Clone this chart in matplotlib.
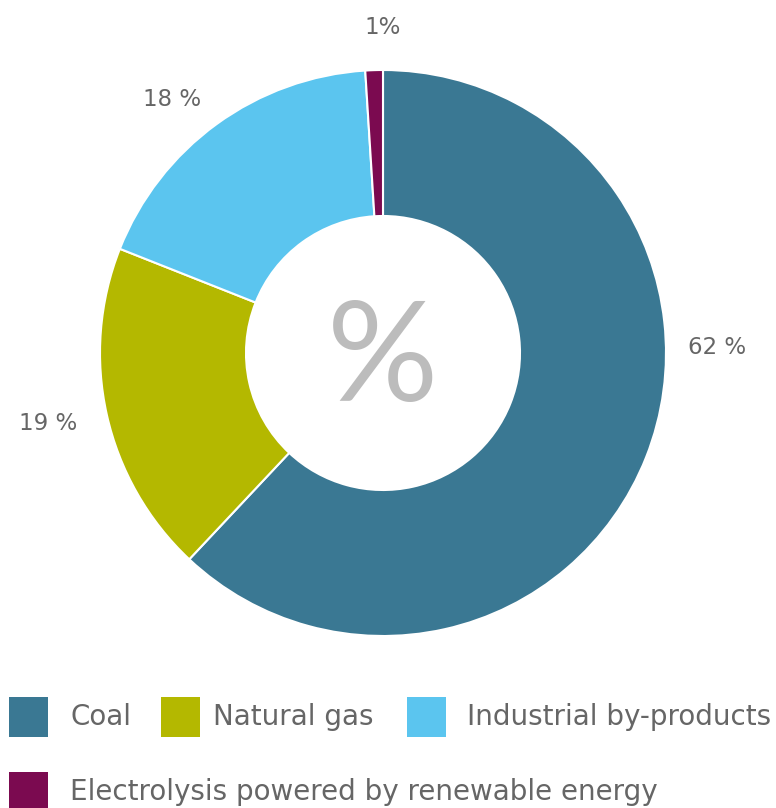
import matplotlib.pyplot as plt
from matplotlib.patches import Rectangle

sources = ['Coal', 'Natural gas', 'Industrial by-products',
           'Electrolysis powered by renewable energy']
shares = [62, 19, 18, 1]
labels = ['62 %', '19 %', '18 %', '1%']
colors = ['#3a7893', '#b4b800', '#5bc5ef', '#7b0a50']

W, H = 776, 808
fig = plt.figure(figsize=(W / 100, H / 100), dpi=100)
ax = fig.add_axes([0, 0, 1, 1])

font = 'DejaVu Sans'
grey = '#666666'

# donut, clockwise from 12 o'clock
ax.pie(shares, colors=colors, startangle=90, counterclock=False,
       center=(383, H - 353), radius=283, frame=True,
       wedgeprops=dict(width=283 - 137, edgecolor='white', linewidth=1.5))
ax.set_xlim(0, W)
ax.set_ylim(0, H)
ax.set_aspect('equal')
ax.axis('off')

# value labels
pos = [(717, 348), (48, 423), (172, 99), (383, 28)]
for (x, y), t in zip(pos, labels):
    ax.text(x, H - y, t, ha='center', va='center', fontsize=16.5,
            color=grey, family=font)

ax.text(383, H - 361, '%', ha='center', va='center', fontsize=100,
        color='#bcbcbc', family='Lato')

# legend drawn by hand
leg = [(9, 717, 70), (161, 717, 213), (407, 717, 467), (9, 792, 70)]
for (sx, sy, tx), name, c in zip(leg, sources, colors):
    ax.add_patch(Rectangle((sx, H - sy - 20), 39, 40, color=c, lw=0))
    ax.text(tx, H - sy, name, ha='left', va='center', fontsize=20,
            color=grey, family=font)

fig.savefig('out.png', dpi=100)
